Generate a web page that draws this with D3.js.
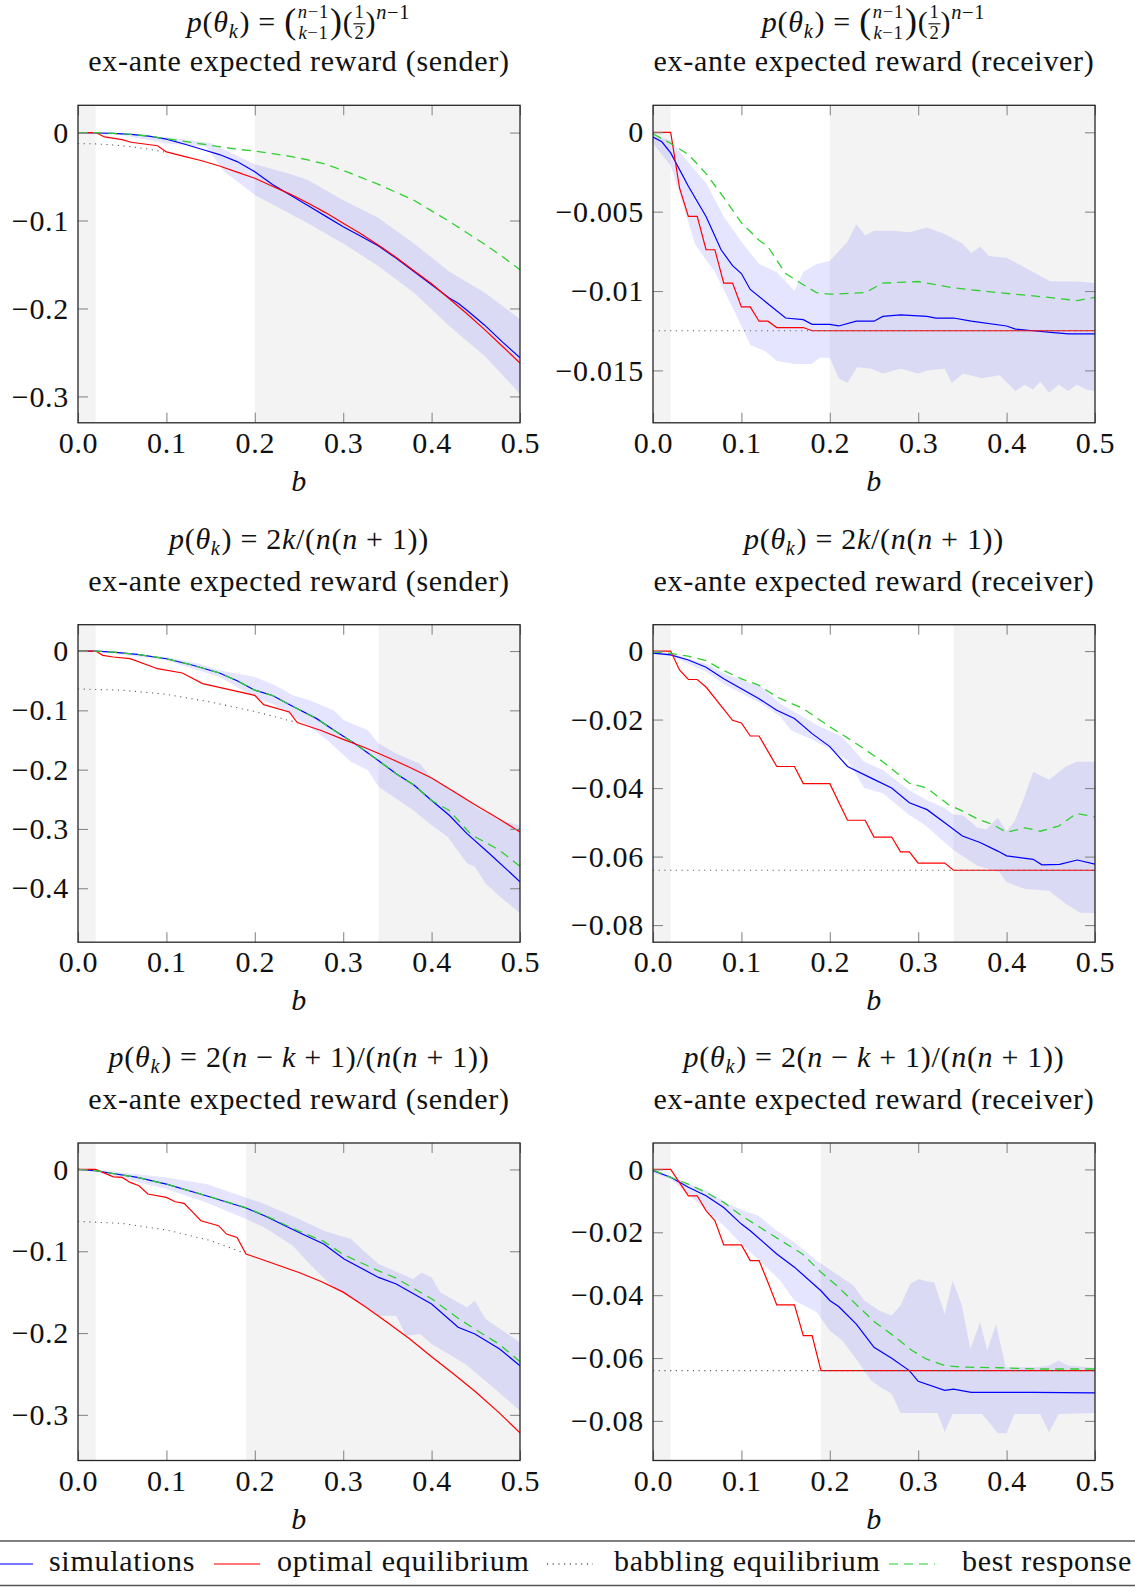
<!DOCTYPE html>
<html>
<head>
<meta charset="utf-8">
<script src="https://cdn.jsdelivr.net/npm/d3@7"></script>
<style>
  body { margin: 0; background: #fff; }
  #chart text { fill: #111; letter-spacing: 0.7px; white-space: pre; }
</style>
</head>
<body>
<svg id="chart" width="1135" height="1587" font-family="Liberation Serif, DejaVu Serif, serif"></svg>
<script>
// x axis (bias b)
const xTicks = [0, 0.1, 0.2, 0.3, 0.4, 0.5]
const xTickLabels = ["0.0", "0.1", "0.2", "0.3", "0.4", "0.5"]

// --- p(θk) binomial, sender
const binSenderSim = [[0,0],[0.02,-0.0005],[0.04,-0.001],[0.06,-0.002],[0.08,-0.004],[0.1,-0.0075],[0.12,-0.013],[0.14,-0.019],[0.16,-0.025],[0.18,-0.033],[0.2,-0.0445],[0.22,-0.059],[0.24,-0.071],[0.26,-0.083],[0.28,-0.095],[0.3,-0.107],[0.32,-0.118],[0.34,-0.129],[0.36,-0.143],[0.38,-0.158],[0.4,-0.173],[0.42,-0.188],[0.43,-0.194],[0.44,-0.202],[0.46,-0.219],[0.48,-0.238],[0.5,-0.256]]
const binSenderOpt = [[0,0],[0.02,0],[0.03,-0.005],[0.05,-0.008],[0.06,-0.011],[0.09,-0.015],[0.1,-0.022],[0.12,-0.027],[0.14,-0.032],[0.16,-0.038],[0.18,-0.045],[0.2,-0.052],[0.22,-0.061],[0.24,-0.07],[0.26,-0.08],[0.28,-0.091],[0.3,-0.103],[0.32,-0.115],[0.34,-0.128],[0.36,-0.142],[0.38,-0.157],[0.4,-0.172],[0.42,-0.189],[0.44,-0.206],[0.46,-0.224],[0.48,-0.243],[0.5,-0.262]]
const binSenderBab = [[0,-0.0125],[0.02,-0.0129],[0.04,-0.0141],[0.06,-0.0161],[0.08,-0.0189],[0.1,-0.0225]]
const binSenderBest = [[0,0],[0.02,0],[0.04,-0.001],[0.06,-0.002],[0.08,-0.004],[0.1,-0.007],[0.12,-0.01],[0.14,-0.013],[0.16,-0.016],[0.18,-0.019],[0.2,-0.021],[0.22,-0.024],[0.24,-0.027],[0.26,-0.031],[0.28,-0.036],[0.3,-0.043],[0.32,-0.051],[0.34,-0.059],[0.36,-0.068],[0.38,-0.077],[0.4,-0.089],[0.42,-0.101],[0.44,-0.114],[0.46,-0.127],[0.48,-0.141],[0.5,-0.156]]
const binSenderHi = [[0,0],[0.02,0],[0.05,-0.001],[0.1,-0.005],[0.15,-0.012],[0.2,-0.036],[0.24,-0.047],[0.26,-0.054],[0.3,-0.077],[0.34,-0.097],[0.38,-0.126],[0.42,-0.158],[0.46,-0.182],[0.5,-0.212]]
const binSenderLo = [[0,0],[0.02,-0.001],[0.05,-0.003],[0.1,-0.0125],[0.145,-0.016],[0.165,-0.044],[0.2,-0.071],[0.26,-0.103],[0.3,-0.126],[0.34,-0.152],[0.38,-0.182],[0.42,-0.22],[0.46,-0.254],[0.5,-0.297]]

// --- p(θk) binomial, receiver
const binReceiverSim = [[0,-0.0003],[0.01,-0.0006],[0.02,-0.0013],[0.04,-0.0034],[0.06,-0.0053],[0.077,-0.0074],[0.09,-0.0084],[0.1,-0.0089],[0.11,-0.0099],[0.13,-0.0108],[0.15,-0.0117],[0.17,-0.0118],[0.18,-0.0121],[0.2,-0.0121],[0.21,-0.0122],[0.23,-0.0119],[0.25,-0.0119],[0.26,-0.0116],[0.28,-0.0115],[0.31,-0.0116],[0.32,-0.0117],[0.34,-0.0117],[0.36,-0.0119],[0.4,-0.0122],[0.41,-0.0124],[0.43,-0.0125],[0.45,-0.0126],[0.47,-0.0127],[0.5,-0.0127]]
const binReceiverOpt = [[0,0],[0.02,0],[0.03,-0.0035],[0.04,-0.0053],[0.05,-0.0053],[0.06,-0.0074],[0.07,-0.0074],[0.08,-0.0095],[0.09,-0.0095],[0.1,-0.011],[0.11,-0.011],[0.12,-0.0119],[0.13,-0.0119],[0.14,-0.0123],[0.17,-0.0123],[0.18,-0.0125],[0.5,-0.0125]]
const binReceiverBab = [[0,-0.0125],[0.5,-0.0125]]
const binReceiverBest = [[0,-0.0001],[0.02,-0.0007],[0.04,-0.0014],[0.06,-0.0026],[0.08,-0.0041],[0.1,-0.0057],[0.12,-0.0068],[0.13,-0.0072],[0.15,-0.0089],[0.17,-0.0096],[0.185,-0.0101],[0.2,-0.0102],[0.24,-0.0101],[0.26,-0.0095],[0.3,-0.0094],[0.34,-0.0098],[0.39,-0.0101],[0.43,-0.0103],[0.48,-0.0106],[0.5,-0.0104]]
const binReceiverHi = [[0,-0.0002],[0.02,-0.0005],[0.04,-0.0019],[0.06,-0.0032],[0.08,-0.0053],[0.1,-0.0069],[0.12,-0.0083],[0.14,-0.0088],[0.16,-0.01],[0.17,-0.0088],[0.185,-0.0083],[0.2,-0.0081],[0.22,-0.0069],[0.23,-0.0058],[0.24,-0.0065],[0.25,-0.0062],[0.27,-0.0062],[0.29,-0.0063],[0.31,-0.006],[0.33,-0.0064],[0.35,-0.007],[0.36,-0.0076],[0.37,-0.0072],[0.38,-0.0078],[0.4,-0.0079],[0.43,-0.0088],[0.45,-0.0094],[0.48,-0.0094],[0.5,-0.0095]]
const binReceiverLo = [[0,-0.0007],[0.02,-0.0021],[0.048,-0.0071],[0.07,-0.0088],[0.094,-0.0115],[0.11,-0.0134],[0.127,-0.0138],[0.14,-0.0144],[0.16,-0.0146],[0.179,-0.0146],[0.189,-0.0142],[0.2,-0.0142],[0.21,-0.0155],[0.22,-0.0158],[0.231,-0.0148],[0.247,-0.0149],[0.26,-0.0152],[0.28,-0.0149],[0.3,-0.0152],[0.31,-0.015],[0.33,-0.0149],[0.338,-0.0158],[0.351,-0.0152],[0.372,-0.0155],[0.392,-0.0153],[0.41,-0.0163],[0.42,-0.0159],[0.43,-0.0162],[0.438,-0.0157],[0.448,-0.0164],[0.459,-0.0159],[0.47,-0.0163],[0.479,-0.0159],[0.49,-0.0162],[0.5,-0.0163]]

// --- p(θk) = 2k/(n(n+1)), sender
const incSenderSim = [[0,0],[0.02,0],[0.04,-0.002],[0.067,-0.0056],[0.1,-0.013],[0.13,-0.024],[0.16,-0.037],[0.18,-0.05],[0.2,-0.066],[0.22,-0.075],[0.24,-0.091],[0.27,-0.114],[0.29,-0.134],[0.313,-0.156],[0.34,-0.185],[0.36,-0.207],[0.38,-0.226],[0.4,-0.252],[0.42,-0.277],[0.44,-0.308],[0.465,-0.341],[0.5,-0.389]]
const incSenderOpt = [[0,0],[0.02,0],[0.028,-0.0073],[0.04,-0.0101],[0.059,-0.0129],[0.09,-0.0298],[0.118,-0.037],[0.141,-0.055],[0.2,-0.0747],[0.21,-0.0904],[0.239,-0.1028],[0.248,-0.1207],[0.275,-0.134],[0.3,-0.149],[0.325,-0.163],[0.35,-0.179],[0.375,-0.196],[0.4,-0.214],[0.425,-0.237],[0.45,-0.26],[0.475,-0.282],[0.5,-0.305]]
const incSenderBab = [[0,-0.064],[0.05,-0.066],[0.1,-0.073],[0.15,-0.086],[0.2,-0.102],[0.248,-0.1207]]
const incSenderBest = [[0,0],[0.02,0],[0.04,-0.002],[0.067,-0.0056],[0.1,-0.013],[0.13,-0.024],[0.16,-0.037],[0.18,-0.05],[0.2,-0.066],[0.22,-0.075],[0.24,-0.091],[0.27,-0.114],[0.29,-0.134],[0.313,-0.156],[0.34,-0.185],[0.36,-0.207],[0.38,-0.226],[0.4,-0.252],[0.42,-0.269],[0.445,-0.31],[0.46,-0.322],[0.477,-0.336],[0.5,-0.363]]
const incSenderHi = [[0,0],[0.02,0],[0.1,-0.0101],[0.137,-0.0213],[0.16,-0.0326],[0.2,-0.0438],[0.223,-0.0578],[0.243,-0.0747],[0.262,-0.0831],[0.289,-0.1],[0.301,-0.1168],[0.328,-0.1336],[0.34,-0.156],[0.36,-0.173],[0.387,-0.19],[0.4,-0.215],[0.438,-0.246],[0.449,-0.2628],[0.477,-0.285],[0.5,-0.294]]
const incSenderLo = [[0,0],[0.02,-0.001],[0.1,-0.0157],[0.13,-0.0298],[0.16,-0.0438],[0.2,-0.0775],[0.223,-0.0915],[0.262,-0.128],[0.282,-0.1505],[0.309,-0.187],[0.328,-0.201],[0.34,-0.229],[0.379,-0.268],[0.4,-0.2937],[0.418,-0.313],[0.44,-0.358],[0.449,-0.3638],[0.461,-0.392],[0.477,-0.414],[0.5,-0.442]]

// --- p(θk) = 2k/(n(n+1)), receiver
const incReceiverSim = [[0,-0.0006],[0.02,-0.0011],[0.04,-0.0026],[0.06,-0.0047],[0.08,-0.0081],[0.1,-0.011],[0.12,-0.0139],[0.14,-0.0173],[0.16,-0.0197],[0.18,-0.0241],[0.2,-0.0279],[0.22,-0.0337],[0.247,-0.0371],[0.27,-0.04],[0.29,-0.0443],[0.31,-0.0463],[0.33,-0.0501],[0.35,-0.054],[0.37,-0.0559],[0.39,-0.0584],[0.4,-0.0598],[0.43,-0.0608],[0.44,-0.0624],[0.46,-0.0623],[0.48,-0.061],[0.5,-0.0622]]
const incReceiverOpt = [[0,0],[0.02,0],[0.03,-0.0055],[0.04,-0.0083],[0.05,-0.0083],[0.06,-0.0105],[0.09,-0.0202],[0.1,-0.021],[0.11,-0.0248],[0.12,-0.0248],[0.14,-0.0337],[0.16,-0.0337],[0.17,-0.0387],[0.2,-0.0387],[0.22,-0.0494],[0.24,-0.0494],[0.25,-0.0543],[0.27,-0.0543],[0.28,-0.0586],[0.29,-0.0586],[0.3,-0.0619],[0.33,-0.0619],[0.34,-0.064],[0.5,-0.064]]
const incReceiverBab = [[0,-0.064],[0.5,-0.064]]
const incReceiverBest = [[0,-0.0002],[0.02,-0.0007],[0.04,-0.0015],[0.06,-0.0028],[0.08,-0.0057],[0.1,-0.0081],[0.12,-0.01],[0.14,-0.0134],[0.17,-0.0168],[0.2,-0.0221],[0.227,-0.0265],[0.26,-0.0323],[0.29,-0.0386],[0.31,-0.04],[0.334,-0.0448],[0.351,-0.0468],[0.367,-0.049],[0.384,-0.0506],[0.4,-0.0529],[0.421,-0.0516],[0.438,-0.0526],[0.459,-0.0511],[0.479,-0.0474],[0.5,-0.0484]]
const incReceiverHi = [[0,0],[0.02,-0.0006],[0.061,-0.0038],[0.082,-0.0067],[0.102,-0.0086],[0.123,-0.0105],[0.144,-0.0154],[0.164,-0.0183],[0.185,-0.0216],[0.206,-0.0241],[0.214,-0.025],[0.227,-0.0289],[0.239,-0.0323],[0.26,-0.0347],[0.289,-0.0405],[0.309,-0.0434],[0.33,-0.0458],[0.34,-0.0477],[0.351,-0.048],[0.367,-0.0516],[0.377,-0.0521],[0.39,-0.0487],[0.4,-0.0526],[0.409,-0.0497],[0.419,-0.0434],[0.43,-0.0352],[0.448,-0.0376],[0.467,-0.0337],[0.479,-0.0323],[0.5,-0.0323]]
const incReceiverLo = [[0,-0.0009],[0.02,-0.0014],[0.061,-0.0062],[0.082,-0.01],[0.102,-0.0125],[0.123,-0.0154],[0.144,-0.0192],[0.156,-0.0231],[0.181,-0.026],[0.202,-0.0289],[0.22,-0.0318],[0.239,-0.04],[0.26,-0.0415],[0.289,-0.0477],[0.309,-0.0511],[0.339,-0.0579],[0.367,-0.0627],[0.392,-0.0646],[0.4,-0.0675],[0.421,-0.0695],[0.448,-0.07],[0.467,-0.0738],[0.483,-0.0764],[0.5,-0.0765]]

// --- p(θk) = 2(n-k+1)/(n(n+1)), sender
const decSenderSim = [[0,0],[0.02,-0.0016],[0.067,-0.0098],[0.1,-0.0179],[0.145,-0.0322],[0.19,-0.0472],[0.211,-0.0566],[0.25,-0.077],[0.278,-0.0912],[0.301,-0.1096],[0.34,-0.132],[0.36,-0.14],[0.4,-0.1646],[0.43,-0.193],[0.449,-0.2012],[0.477,-0.2196],[0.5,-0.2399]]
const decSenderOpt = [[0,0],[0.02,0],[0.04,-0.009],[0.05,-0.0098],[0.059,-0.0159],[0.069,-0.02],[0.079,-0.0301],[0.1,-0.0342],[0.11,-0.0395],[0.12,-0.0415],[0.13,-0.0525],[0.139,-0.0627],[0.159,-0.0688],[0.168,-0.079],[0.18,-0.0831],[0.19,-0.1035],[0.2,-0.107],[0.25,-0.126],[0.275,-0.137],[0.3,-0.15],[0.325,-0.168],[0.35,-0.187],[0.375,-0.207],[0.4,-0.229],[0.425,-0.25],[0.45,-0.272],[0.475,-0.296],[0.5,-0.322]]
const decSenderBab = [[0,-0.0635],[0.05,-0.066],[0.1,-0.074],[0.15,-0.087],[0.19,-0.103]]
const decSenderBest = [[0,0],[0.02,-0.0016],[0.067,-0.0098],[0.1,-0.0179],[0.145,-0.032],[0.19,-0.0468],[0.211,-0.056],[0.25,-0.0755],[0.278,-0.088],[0.3,-0.104],[0.34,-0.124],[0.36,-0.133],[0.4,-0.158],[0.43,-0.182],[0.45,-0.196],[0.477,-0.214],[0.5,-0.235]]
const decSenderHi = [[0,0],[0.02,0],[0.1,-0.0098],[0.145,-0.0179],[0.19,-0.0342],[0.211,-0.0424],[0.25,-0.0607],[0.278,-0.075],[0.309,-0.0851],[0.321,-0.0974],[0.34,-0.1157],[0.379,-0.134],[0.389,-0.1259],[0.4,-0.132],[0.41,-0.1503],[0.44,-0.1686],[0.449,-0.1605],[0.461,-0.1829],[0.5,-0.2114]]
const decSenderLo = [[0,0],[0.02,-0.003],[0.1,-0.024],[0.145,-0.0403],[0.19,-0.0607],[0.211,-0.0709],[0.243,-0.0933],[0.262,-0.1157],[0.289,-0.1442],[0.321,-0.1646],[0.34,-0.1788],[0.36,-0.1788],[0.371,-0.2033],[0.387,-0.2012],[0.4,-0.2134],[0.438,-0.2379],[0.465,-0.2623],[0.5,-0.2949]]

// --- p(θk) = 2(n-k+1)/(n(n+1)), receiver
const decReceiverSim = [[0,-0.0004],[0.02,-0.0025],[0.04,-0.0057],[0.06,-0.0084],[0.08,-0.0121],[0.1,-0.0174],[0.11,-0.0195],[0.14,-0.0269],[0.16,-0.0311],[0.19,-0.0386],[0.2,-0.0417],[0.21,-0.0436],[0.23,-0.0492],[0.25,-0.0566],[0.27,-0.0601],[0.29,-0.064],[0.3,-0.0674],[0.33,-0.0703],[0.34,-0.0699],[0.36,-0.0709],[0.4,-0.0709],[0.43,-0.0709],[0.5,-0.0711]]
const decReceiverOpt = [[0,0],[0.02,0],[0.04,-0.0084],[0.05,-0.0084],[0.06,-0.0131],[0.07,-0.0163],[0.08,-0.024],[0.1,-0.024],[0.11,-0.029],[0.12,-0.029],[0.13,-0.0359],[0.14,-0.0431],[0.16,-0.0431],[0.17,-0.0529],[0.18,-0.0529],[0.19,-0.064],[0.5,-0.064]]
const decReceiverBab = [[0,-0.064],[0.5,-0.064]]
const decReceiverBest = [[0,-0.0002],[0.02,-0.0025],[0.04,-0.0047],[0.06,-0.0073],[0.08,-0.0105],[0.1,-0.0147],[0.127,-0.0195],[0.148,-0.0232],[0.169,-0.0269],[0.19,-0.0327],[0.21,-0.0375],[0.231,-0.0433],[0.251,-0.0486],[0.272,-0.0529],[0.293,-0.0576],[0.309,-0.0603],[0.33,-0.0624],[0.351,-0.0629],[0.392,-0.0631],[0.434,-0.0635],[0.5,-0.0635]]
const decReceiverHi = [[0,-0.0002],[0.02,-0.0025],[0.061,-0.0068],[0.086,-0.011],[0.102,-0.0131],[0.119,-0.0147],[0.14,-0.0195],[0.16,-0.0232],[0.185,-0.029],[0.202,-0.0322],[0.227,-0.037],[0.239,-0.0417],[0.256,-0.0449],[0.27,-0.0465],[0.28,-0.0433],[0.291,-0.0364],[0.301,-0.0349],[0.309,-0.0356],[0.318,-0.0359],[0.33,-0.046],[0.339,-0.0354],[0.349,-0.0428],[0.359,-0.0571],[0.37,-0.0486],[0.378,-0.0576],[0.388,-0.0492],[0.399,-0.0629],[0.434,-0.0629],[0.448,-0.0624],[0.459,-0.0608],[0.469,-0.0624],[0.5,-0.0631]]
const decReceiverLo = [[0,-0.001],[0.02,-0.0031],[0.061,-0.0131],[0.082,-0.0184],[0.102,-0.0243],[0.123,-0.0296],[0.144,-0.0354],[0.16,-0.0417],[0.185,-0.0454],[0.2,-0.0513],[0.214,-0.0544],[0.231,-0.0608],[0.247,-0.0672],[0.26,-0.0698],[0.27,-0.0714],[0.28,-0.0775],[0.322,-0.0775],[0.33,-0.0836],[0.339,-0.0778],[0.372,-0.0778],[0.38,-0.0804],[0.39,-0.0839],[0.4,-0.0839],[0.409,-0.0778],[0.438,-0.0778],[0.448,-0.0836],[0.459,-0.0778],[0.5,-0.0775]]

// y axes
const senderBinDomain = [-0.33, 0.031]
const receiverBinDomain = [-0.0183, 0.0017]
const senderIncDomain = [-0.491, 0.0444]
const receiverIncDomain = [-0.085, 0.0077]
const senderDecDomain = [-0.3558, 0.0323]
const receiverDecDomain = [-0.0926, 0.0084]
const ticksSenderA = [0, -0.1, -0.2, -0.3]
const labelsSenderA = ["0", "−0.1", "−0.2", "−0.3"]
const ticksSenderB = [0, -0.1, -0.2, -0.3, -0.4]
const labelsSenderB = ["0", "−0.1", "−0.2", "−0.3", "−0.4"]
const ticksReceiverA = [0, -0.005, -0.01, -0.015]
const labelsReceiverA = ["0", "−0.005", "−0.01", "−0.015"]
const ticksReceiverB = [0, -0.02, -0.04, -0.06, -0.08]
const labelsReceiverB = ["0", "−0.02", "−0.04", "−0.06", "−0.08"]

// grey regions: [0, 0.02] and [start, 0.5]
const shadeStarts = [0.2, 0.34, 0.19]

// titles (math parts; *x* = italic)
const titleBinom = [{ t: "*p*(*θ*" }, { sub: "*k*" }, { t: ") = " }, { big: "(" }, { stack: ["*n*−1", "*k*−1"] }, { big: ")" }, { t: "(" }, { frac: ["1", "2"] }, { t: ")" }, { sup: "*n*−1" }]
const titleInc = [{ t: "*p*(*θ*" }, { sub: "*k*" }, { t: ") = 2*k*/(*n*(*n* + 1))" }]
const titleDec = [{ t: "*p*(*θ*" }, { sub: "*k*" }, { t: ") = 2(*n* − *k* + 1)/(*n*(*n* + 1))" }]
const subSender = "ex-ante expected reward (sender)"
const subReceiver = "ex-ante expected reward (receiver)"

const legendLabels = ["simulations", "optimal equilibrium", "babbling equilibrium", "best response"]

const colors = { sim: "#0000ff", opt: "#ff0000", bab: "#555", best: "#2fd02f" }

const panels = [
  { col: 0, row: 0, title: titleBinom, sub: subSender, dom: senderBinDomain, ticks: ticksSenderA, labels: labelsSenderA, shade: shadeStarts[0], sim: binSenderSim, opt: binSenderOpt, bab: binSenderBab, best: binSenderBest, hi: binSenderHi, lo: binSenderLo },
  { col: 1, row: 0, title: titleBinom, sub: subReceiver, dom: receiverBinDomain, ticks: ticksReceiverA, labels: labelsReceiverA, shade: shadeStarts[0], sim: binReceiverSim, opt: binReceiverOpt, bab: binReceiverBab, best: binReceiverBest, hi: binReceiverHi, lo: binReceiverLo },
  { col: 0, row: 1, title: titleInc, sub: subSender, dom: senderIncDomain, ticks: ticksSenderB, labels: labelsSenderB, shade: shadeStarts[1], sim: incSenderSim, opt: incSenderOpt, bab: incSenderBab, best: incSenderBest, hi: incSenderHi, lo: incSenderLo },
  { col: 1, row: 1, title: titleInc, sub: subReceiver, dom: receiverIncDomain, ticks: ticksReceiverB, labels: labelsReceiverB, shade: shadeStarts[1], sim: incReceiverSim, opt: incReceiverOpt, bab: incReceiverBab, best: incReceiverBest, hi: incReceiverHi, lo: incReceiverLo },
  { col: 0, row: 2, title: titleDec, sub: subSender, dom: senderDecDomain, ticks: ticksSenderA, labels: labelsSenderA, shade: shadeStarts[2], sim: decSenderSim, opt: decSenderOpt, bab: decSenderBab, best: decSenderBest, hi: decSenderHi, lo: decSenderLo },
  { col: 1, row: 2, title: titleDec, sub: subReceiver, dom: receiverDecDomain, ticks: ticksReceiverB, labels: labelsReceiverB, shade: shadeStarts[2], sim: decReceiverSim, opt: decReceiverOpt, bab: decReceiverBab, best: decReceiverBest, hi: decReceiverHi, lo: decReceiverLo }
]

const svg = d3.select("#chart")
const FONT = "Liberation Serif, DejaVu Serif, serif"
const W = 442
const H = 317.5
const colX = [78, 653]
const rowY = [105.3, 624.7, 1143]
const fs = 30
const tickLen = 10

function addRuns(textSel, str) {
  textSel.attr("font-family", FONT)
  str.split("*").forEach((s, i) => {
    if (s) textSel.append("tspan").attr("font-style", i % 2 ? "italic" : null).text(s)
  })
  return textSel
}

// lays out a small formula left to right, returns its width
function drawFormula(g, toks) {
  let x = 0
  toks.forEach((tk) => {
    if (tk.t) {
      const el = addRuns(g.append("text").attr("x", x).attr("y", 0).attr("font-size", fs), tk.t)
      x += el.node().getComputedTextLength()
    } else if (tk.big) {
      const el = addRuns(g.append("text").attr("x", x).attr("y", 1).attr("font-size", fs * 1.2), tk.big)
      x += el.node().getComputedTextLength()
    } else if (tk.sub || tk.sup) {
      const el = addRuns(
        g.append("text").attr("x", x).attr("y", tk.sub ? 6 : -13).attr("font-size", fs * 0.68),
        tk.sub || tk.sup
      )
      x += el.node().getComputedTextLength() + 1
    } else if (tk.stack || tk.frac) {
      const pair = tk.stack || tk.frac
      const ys = [-14, 7]
      const els = pair.map((s, i) =>
        addRuns(g.append("text").attr("y", ys[i]).attr("font-size", fs * 0.62).attr("text-anchor", "middle"), s)
      )
      const w = d3.max(els, (e) => e.node().getComputedTextLength()) + 2
      els.forEach((e) => e.attr("x", x + w / 2))
      if (tk.frac) {
        g.append("line").attr("x1", x).attr("x2", x + w).attr("y1", -8.5).attr("y2", -8.5)
          .attr("stroke", "#111").attr("stroke-width", 1.1)
      }
      x += w
    }
  })
  return x
}

panels.forEach((p) => {
  const left = colX[p.col]
  const top = rowY[p.row]
  const x = d3.scaleLinear().domain([0, 0.5]).range([0, W])
  const y = d3.scaleLinear().domain(p.dom).range([H, 0])
  const g = svg.append("g").attr("transform", `translate(${left},${top})`)
  const clipId = `clip${p.col}${p.row}`
  g.append("clipPath").attr("id", clipId).append("rect").attr("width", W).attr("height", H)
  const plot = g.append("g").attr("clip-path", `url(#${clipId})`)

  // shaded regions
  plot.selectAll("rect.shade")
    .data([[0, 0.02], [p.shade, 0.5]])
    .enter()
    .append("rect")
    .attr("class", "shade")
    .attr("x", (d) => x(d[0]))
    .attr("width", (d) => x(d[1]) - x(d[0]))
    .attr("y", 0)
    .attr("height", H)
    .attr("fill", "#f3f3f3")

  const line = d3.line().x((d) => x(d[0])).y((d) => y(d[1]))

  // simulation band
  plot.append("path")
    .attr("d", line(p.hi.concat(p.lo.slice().reverse())) + "Z")
    .attr("fill", "#0000ff")
    .attr("fill-opacity", 0.1)

  plot.append("path").attr("d", line(p.sim)).attr("fill", "none")
    .attr("stroke", colors.sim).attr("stroke-width", 1.2)
  plot.append("path").attr("d", line(p.opt)).attr("fill", "none")
    .attr("stroke", colors.opt).attr("stroke-width", 1.2)
  plot.append("path").attr("d", line(p.bab)).attr("fill", "none")
    .attr("stroke", colors.bab).attr("stroke-width", 1.1).attr("stroke-dasharray", "1.1,4.6")
  plot.append("path").attr("d", line(p.best)).attr("fill", "none")
    .attr("stroke", colors.best).attr("stroke-width", 1.3).attr("stroke-dasharray", "9,6")

  // axes, ticks inward on all four sides
  const styleAxis = (a) => {
    a.select(".domain").remove()
    a.attr("font-size", fs).attr("font-family", FONT).attr("color", "#8a8a8a")
    a.selectAll(".tick line").attr("stroke-width", 1.1)
    a.selectAll(".tick text").attr("fill", "#111").attr("font-family", FONT)
  }
  g.append("g").attr("transform", `translate(0,${H})`)
    .call(d3.axisBottom(x).tickValues(xTicks).tickFormat((d, i) => xTickLabels[i]).tickSize(-tickLen).tickPadding(9))
    .call(styleAxis)
  g.append("g")
    .call(d3.axisTop(x).tickValues(xTicks).tickFormat("").tickSize(-tickLen))
    .call(styleAxis)
  g.append("g")
    .call(d3.axisLeft(y).tickValues(p.ticks).tickFormat((d, i) => p.labels[i]).tickSize(-tickLen).tickPadding(9))
    .call(styleAxis)
  g.append("g").attr("transform", `translate(${W},0)`)
    .call(d3.axisRight(y).tickValues(p.ticks).tickFormat("").tickSize(-tickLen))
    .call(styleAxis)

  g.append("rect").attr("width", W).attr("height", H)
    .attr("fill", "none").attr("stroke", "#262626").attr("stroke-width", 1.3)

  // x label
  g.append("text").attr("x", W / 2).attr("y", H + 68).attr("text-anchor", "middle")
    .attr("font-family", FONT).attr("font-size", fs).attr("font-style", "italic").text("b")

  // titles
  g.append("text").attr("x", W / 2).attr("y", -34).attr("text-anchor", "middle")
    .attr("font-family", FONT).attr("font-size", fs).text(p.sub)
  const fg = g.append("g")
  const fw = drawFormula(fg, p.title)
  fg.attr("transform", `translate(${W / 2 - fw / 2},${p.row === 0 ? -73 : -76})`)
})

// legend
const legendY = 1564
svg.append("line").attr("x1", 0).attr("x2", 1135).attr("y1", 1541).attr("y2", 1541)
  .attr("stroke", "#555").attr("stroke-width", 1.5)
svg.append("line").attr("x1", 0).attr("x2", 1135).attr("y1", 1585.5).attr("y2", 1585.5)
  .attr("stroke", "#555").attr("stroke-width", 1.5)

const legendSamples = [
  { x: -13, color: colors.sim, dash: null },
  { x: 214, color: colors.opt, dash: null },
  { x: 547, color: colors.bab, dash: "1.1,4.6" },
  { x: 889, color: colors.best, dash: "9,6" }
]
const legendTextX = [49, 277, 614, 962]
const lg = svg.append("g")
lg.selectAll("line")
  .data(legendSamples)
  .enter()
  .append("line")
  .attr("x1", (d) => d.x)
  .attr("x2", (d) => d.x + 46)
  .attr("y1", legendY)
  .attr("y2", legendY)
  .attr("stroke", (d) => d.color)
  .attr("stroke-width", 1.6)
  .attr("stroke-opacity", (d, i) => (i === 2 ? 1 : 0.7))
  .attr("stroke-dasharray", (d) => d.dash)
lg.selectAll("text")
  .data(legendLabels)
  .enter()
  .append("text")
  .attr("x", (d, i) => legendTextX[i])
  .attr("y", legendY + 7)
  .attr("font-family", FONT)
  .attr("font-size", fs)
  .text((d) => d)
</script>
</body>
</html>
